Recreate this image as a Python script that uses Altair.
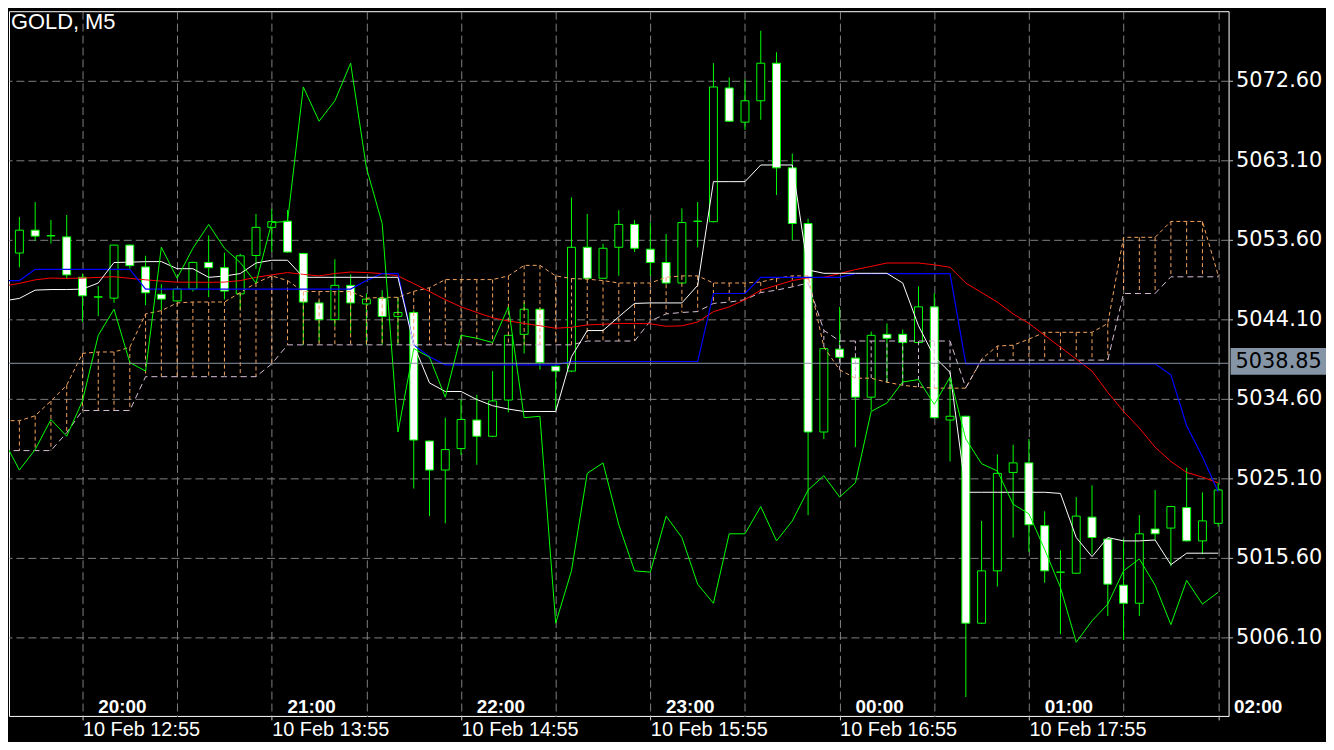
import altair as alt
import pandas as pd

# ---------------- data ----------------
OPEN = [5052.02, 5054.75, 5054.07, 5053.95, 5049.12, 5046.75, 5046.63, 5052.97, 5050.36, 5047.09,
        5046.30, 5047.72, 5050.90, 5050.27, 5047.14, 5051.73, 5055.09, 5055.83, 5051.97, 5046.06,
        5044.06, 5048.16, 5045.94, 5046.63, 5044.45, 5044.92, 5029.56, 5026.10, 5028.66, 5032.07,
        5030.13, 5034.46, 5042.31, 5045.31, 5038.49, 5037.92, 5052.71, 5049.01, 5052.71, 5055.44,
        5052.48, 5050.89, 5048.44, 5055.83, 5055.77, 5071.74, 5067.66, 5070.21, 5074.70, 5062.20,
        5055.55, 5030.64, 5040.54, 5039.47, 5034.80, 5042.31, 5042.31, 5041.33, 5045.59, 5032.07,
        5032.52, 5007.80, 5014.05, 5025.81, 5026.95, 5019.45, 5013.88, 5013.77, 5020.47, 5017.85,
        5012.34, 5010.18, 5019.05, 5019.16, 5021.61, 5017.63, 5019.73]
HIGH = [5056.33, 5058.11, 5055.97, 5056.57, 5049.56, 5048.06, 5053.00, 5053.05, 5051.70, 5048.29,
        5047.78, 5050.99, 5054.13, 5052.05, 5051.94, 5056.69, 5057.28, 5057.16, 5052.05, 5046.36,
        5051.28, 5049.47, 5047.19, 5047.59, 5046.73, 5045.17, 5029.61, 5032.35, 5034.52, 5035.09,
        5037.92, 5042.20, 5046.16, 5045.35, 5038.64, 5058.67, 5056.69, 5053.12, 5057.14, 5055.95,
        5055.66, 5054.30, 5057.36, 5058.11, 5074.70, 5073.00, 5072.78, 5078.57, 5076.01, 5063.91,
        5056.12, 5040.66, 5045.59, 5039.59, 5042.64, 5043.61, 5042.88, 5048.04, 5047.19, 5037.07,
        5032.58, 5020.02, 5027.97, 5029.11, 5029.80, 5021.16, 5016.50, 5022.87, 5024.28, 5017.97,
        5017.85, 5020.71, 5023.71, 5021.77, 5026.38, 5023.42, 5024.56]
LOW = [5050.31, 5053.48, 5053.16, 5048.93, 5043.78, 5044.48, 5046.07, 5050.15, 5045.78, 5045.17,
       5046.24, 5047.42, 5046.75, 5046.47, 5045.17, 5050.15, 5052.17, 5052.05, 5041.05, 5041.37,
       5043.33, 5042.47, 5041.05, 5041.05, 5041.05, 5023.89, 5020.59, 5019.73, 5027.87, 5026.73,
       5030.03, 5032.98, 5040.03, 5038.09, 5033.29, 5037.80, 5048.91, 5048.91, 5049.30, 5052.14,
       5049.30, 5048.31, 5048.31, 5052.71, 5055.68, 5067.67, 5066.74, 5067.94, 5058.95, 5053.55,
       5020.70, 5029.80, 5039.23, 5028.83, 5033.21, 5036.50, 5036.50, 5041.25, 5032.28, 5027.12,
       4998.98, 5007.70, 5012.18, 5018.03, 5016.32, 5012.63, 5006.49, 5013.70, 5016.04, 5008.65,
       5005.80, 5008.65, 5017.74, 5014.61, 5017.56, 5016.04, 5019.34]
CLOSE = [5054.75, 5054.04, 5054.10, 5049.41, 5046.91, 5046.80, 5052.97, 5050.51, 5047.27, 5046.52,
         5047.72, 5050.90, 5050.27, 5047.48, 5051.69, 5055.09, 5055.77, 5052.14, 5046.16, 5044.06,
         5048.16, 5046.06, 5046.51, 5044.45, 5044.92, 5029.68, 5026.10, 5028.54, 5032.13, 5030.13,
         5034.35, 5042.19, 5045.31, 5038.94, 5037.92, 5052.71, 5049.01, 5052.59, 5055.44, 5052.59,
         5050.89, 5048.44, 5055.66, 5055.80, 5071.86, 5067.77, 5070.21, 5074.70, 5062.20, 5055.55,
         5030.64, 5040.60, 5039.57, 5034.80, 5042.19, 5041.84, 5041.33, 5045.59, 5032.35, 5032.52,
         5007.80, 5014.05, 5025.70, 5026.95, 5019.56, 5014.05, 5013.90, 5020.59, 5018.03, 5012.46,
         5010.18, 5018.48, 5018.48, 5021.73, 5017.63, 5020.02, 5023.71]

# indicator lines, bar index -1 .. 76
TENKAN = [5046.30, 5046.60, 5047.59, 5047.66, 5047.66, 5047.71, 5048.44, 5050.89, 5050.93, 5050.99, 5051.00,
          5050.15, 5050.15, 5049.12, 5049.27, 5049.57, 5050.83, 5051.16, 5051.16, 5049.12, 5049.12,
          5049.12, 5049.12, 5049.12, 5049.12, 5049.12, 5041.05, 5036.50, 5035.48, 5035.48, 5034.52,
          5033.78, 5033.38, 5033.09, 5033.09, 5033.09, 5039.63, 5042.76, 5042.76, 5044.41, 5046.00,
          5046.06, 5046.06, 5046.06, 5048.16, 5060.55, 5060.55, 5060.55, 5062.54, 5062.54, 5062.54,
          5050.00, 5049.60, 5049.60, 5049.60, 5049.60, 5049.60, 5048.44, 5043.33, 5039.63, 5037.76,
          5023.44, 5023.44, 5023.44, 5023.44, 5023.44, 5023.44, 5023.30, 5018.03, 5015.75, 5018.03,
          5017.63, 5017.63, 5017.74, 5014.79, 5016.16, 5016.16, 5016.16]
KIJUN = [5048.73, 5048.73, 5050.08, 5050.08, 5050.08, 5050.08, 5050.08, 5050.08, 5050.08, 5047.72,
         5047.71, 5047.71, 5047.71, 5047.71, 5047.71, 5047.71, 5047.71, 5047.71, 5047.71, 5047.71,
         5047.71, 5047.71, 5047.71, 5048.73, 5049.57, 5049.57, 5041.05, 5039.63, 5038.66, 5038.66,
         5038.66, 5038.66, 5038.66, 5038.66, 5038.66, 5038.66, 5039.06, 5039.06, 5039.06, 5039.06,
         5039.06, 5039.06, 5039.06, 5039.06, 5039.06, 5047.19, 5047.19, 5047.19, 5049.12, 5049.12,
         5049.12, 5049.12, 5049.12, 5049.12, 5049.57, 5049.57, 5049.57, 5049.57, 5049.57, 5049.57,
         5049.57, 5038.78, 5038.78, 5038.78, 5038.78, 5038.78, 5038.78, 5038.78, 5038.78, 5038.78,
         5038.78, 5038.78, 5038.78, 5038.78, 5037.47, 5031.39, 5027.69, 5023.51]
MA_RED = [5048.07, 5048.39, 5048.82, 5049.03, 5048.99, 5049.03, 5049.11, 5049.19, 5049.00, 5048.82,
          5048.67, 5048.54, 5048.54, 5048.52, 5048.55, 5048.73, 5049.12, 5049.41, 5049.69, 5049.47,
          5049.29, 5049.57, 5049.75, 5049.69, 5049.57, 5049.29, 5048.37, 5047.42, 5046.45, 5045.59,
          5044.92, 5044.29, 5043.90, 5043.61, 5043.33, 5043.04, 5043.15, 5043.43, 5043.51, 5043.61,
          5043.61, 5043.57, 5043.27, 5043.33, 5043.78, 5045.02, 5045.59, 5046.45, 5047.59, 5048.16,
          5048.73, 5049.06, 5049.12, 5049.57, 5050.04, 5050.43, 5050.83, 5050.83, 5050.83, 5050.61,
          5050.32, 5048.44, 5047.30, 5046.16, 5044.75, 5043.61, 5042.19, 5040.77, 5039.35, 5037.92,
          5035.37, 5033.09, 5031.11, 5028.83, 5027.12, 5025.81, 5025.25, 5024.56]
CHIKOU = [5029.68, 5026.10, 5028.54, 5032.13, 5030.13, 5034.35, 5042.19, 5045.31, 5038.94, 5037.92,
          5052.71, 5049.01, 5052.59, 5055.44, 5052.59, 5050.89, 5048.44, 5055.66, 5055.80, 5071.86,
          5067.77, 5070.21, 5074.70, 5062.20, 5055.55, 5030.64, 5040.60, 5039.57, 5034.80, 5042.19,
          5041.84, 5041.33, 5045.59, 5032.35, 5032.52, 5007.80, 5014.05, 5025.70, 5026.95, 5019.56,
          5014.05, 5013.90, 5020.59, 5018.03, 5012.46, 5010.18, 5018.48, 5018.48, 5021.73, 5017.63,
          5020.02, 5023.71, 5025.42, 5022.87, 5024.57, 5033.09, 5034.11, 5036.62, 5036.90, 5033.94,
          5037.19, 5029.80, 5026.85, 5025.99, 5022.01, 5020.87, 5016.61, 5012.06, 5005.52, 5008.08,
          5010.08, 5014.05, 5015.48, 5012.34, 5007.63, 5012.91, 5010.08, 5011.49]
SPAN_A = [5031.99, 5031.99, 5032.58, 5034.35, 5036.23, 5040.03, 5040.20, 5040.20, 5040.77, 5044.75,
          5045.14, 5046.06, 5046.17, 5046.17, 5046.17, 5047.30, 5048.44, 5049.29, 5048.73, 5047.42,
          5047.42, 5047.42, 5047.42, 5046.62, 5046.73, 5046.73, 5047.45, 5047.88, 5048.85, 5048.85,
          5048.85, 5048.85, 5049.29, 5050.55, 5050.55, 5049.29, 5048.97, 5048.90, 5048.73, 5048.44,
          5048.44, 5048.44, 5049.12, 5049.29, 5049.29, 5048.44, 5048.44, 5048.44, 5048.55, 5049.01,
          5049.29, 5049.29, 5040.80, 5038.07, 5037.07, 5037.07, 5036.59, 5036.22, 5036.02, 5035.88,
          5035.88, 5035.88, 5039.35, 5040.91, 5041.01, 5041.74, 5042.55, 5042.55, 5042.55, 5042.55,
          5043.61, 5053.90, 5053.90, 5053.90, 5055.80, 5055.80, 5055.80, 5049.36]
SPAN_B = [5028.42, 5028.42, 5028.42, 5028.42, 5030.56, 5033.21, 5033.21, 5033.21, 5033.21, 5037.25,
          5037.25, 5037.25, 5037.25, 5037.25, 5037.25, 5037.25, 5037.25, 5038.78, 5041.05, 5041.05,
          5041.05, 5041.05, 5041.05, 5041.05, 5041.05, 5041.05, 5041.05, 5041.05, 5041.05, 5041.05,
          5041.05, 5041.05, 5041.05, 5041.05, 5041.05, 5041.05, 5041.05, 5041.51, 5041.51, 5041.51,
          5041.51, 5043.90, 5044.75, 5044.92, 5045.03, 5046.00, 5046.16, 5046.45, 5047.30, 5047.59,
          5047.98, 5048.44, 5042.79, 5041.51, 5041.51, 5041.51, 5041.51, 5041.51, 5041.51, 5041.51,
          5041.51, 5035.94, 5039.23, 5039.23, 5039.23, 5039.23, 5039.23, 5039.23, 5039.23, 5039.23,
          5039.23, 5047.19, 5047.19, 5047.19, 5049.18, 5049.18, 5049.18, 5049.18]

PRICE_TICKS = [5006.10, 5015.60, 5025.10, 5034.60, 5044.10, 5053.60, 5063.10, 5072.60]
GRID_BARS = [4, 10, 16, 22, 28, 34, 40, 46, 52, 58, 64, 70, 76]
DATE_BARS = [4, 16, 28, 40, 52, 64]
DATE_LABELS = ["10 Feb 12:55", "10 Feb 13:55", "10 Feb 14:55", "10 Feb 15:55", "10 Feb 16:55", "10 Feb 17:55"]
TIME_BARS = [5, 17, 29, 41, 53, 65, 77]
TIME_LABELS = ["20:00", "21:00", "22:00", "23:00", "00:00", "01:00", "02:00"]
BID = 5038.85
TITLE = "GOLD, M5"

# ---------------- styling ----------------
LIME = "#00ff00"
GRID = "#808080"
W, H = 1227, 709

label_expr = " : ".join(
    f"datum.value == {b} ? '{t}'" for b, t in zip(DATE_BARS, DATE_LABELS)
) + " : ''"

x_scale = alt.Scale(domain=[-0.34375, 76.34375], nice=False, zero=False)
y_scale = alt.Scale(domain=[4996.71875, 5080.9125], nice=False, zero=False)

x_axis = alt.Axis(
    orient="bottom", values=GRID_BARS, grid=True, gridColor=GRID, gridDash=[8, 4], gridWidth=1,
    domain=False, ticks=True, tickSize=4, tickWidth=1,
    tickColor={"condition": {"test": "datum.value % 12 == 4 || datum.value == 76", "value": "#d0d0d0"},
               "value": "#000000"},
    labelExpr=label_expr, labelAlign="left", labelBaseline="top", labelPadding=0,
    labelFont="Liberation Sans", labelFontSize=20, labelColor="#ffffff",
    labelOverlap=False, labelBound=False, labelFlush=False,
)
y_axis = alt.Axis(
    orient="right", values=PRICE_TICKS, format=".2f", grid=True, gridColor=GRID, gridDash=[8, 4],
    gridWidth=1, domain=False, ticks=True, tickSize=4, tickColor="#c0c0c0",
    labelFont="DejaVu Sans", labelFontSize=21, labelColor="#ffffff", labelPadding=3,
    labelBaseline="middle", labelOverlap=False, labelBound=False, labelFlush=False,
)


def X(field="i"):
    return alt.X(f"{field}:Q", scale=x_scale, axis=x_axis, title=None)


def Y(field):
    return alt.Y(f"{field}:Q", scale=y_scale, axis=y_axis, title=None)


# ---------------- frames ----------------
cdf = pd.DataFrame({"i": list(range(len(OPEN))), "open": OPEN, "high": HIGH, "low": LOW, "close": CLOSE})
cdf["top"] = cdf[["open", "close"]].max(axis=1)
cdf["bot"] = cdf[["open", "close"]].min(axis=1)
cdf["bull"] = cdf["close"] > cdf["open"]

LINE_IDX = list(range(-1, 77))

hdf = pd.DataFrame({"i": LINE_IDX[1:], "a": SPAN_A[1:], "b": SPAN_B[1:]})

wicks = alt.Chart(cdf).mark_rule(color=LIME, strokeWidth=1).encode(
    x=X(), y=Y("low"), y2=alt.Y2("high:Q"))
bodies = alt.Chart(cdf).mark_bar(size=8, stroke=LIME, strokeWidth=1, opacity=1).encode(
    x=X(), y=Y("bot"), y2=alt.Y2("top:Q"),
    fill=alt.condition("datum.bull", alt.value("#000000"), alt.value("#ffffff")))

hatch = alt.Chart(hdf).mark_rule(strokeWidth=1, strokeDash=[4, 3]).encode(
    x=X(), y=Y("a"), y2=alt.Y2("b:Q"),
    color=alt.condition("datum.a >= datum.b", alt.value("#f4a460"), alt.value("#d8bfd8")))


def line_layer(values, color, dash=None, width=1.0):
    df = pd.DataFrame({"i": LINE_IDX, "v": values})
    kw = dict(color=color, strokeWidth=width, clip=True)
    if dash:
        kw["strokeDash"] = dash
    return alt.Chart(df).mark_line(**kw).encode(x=X(), y=Y("v"))


span_a = line_layer(SPAN_A, "#f4a460", dash=[4, 3])
span_b = line_layer(SPAN_B, "#d8bfd8", dash=[6, 4])
red = line_layer(MA_RED, "#ff0000")
blue = line_layer(KIJUN, "#0000ff", width=1.2)
white = line_layer(TENKAN, "#ffffff")
green = line_layer(CHIKOU, LIME)

bdf = pd.DataFrame({"p": [BID], "label": [f"{BID:.2f}"]})
bid_line = alt.Chart(bdf).mark_rule(color="#8a96a3", strokeWidth=1).encode(y=Y("p"))
bid_box = alt.Chart(bdf).mark_tick(color="#8595a6", thickness=27, size=96, opacity=1, yOffset=-2).encode(
    y=Y("p"), x=alt.value(1277))
bid_text = alt.Chart(bdf).mark_text(align="left", baseline="middle", font="DejaVu Sans", fontSize=21,
                                    color="#000000", yOffset=-1).encode(
    y=Y("p"), x=alt.value(1234), text="label:N")

tdf = pd.DataFrame({"i": TIME_BARS, "t": TIME_LABELS})
time_text = alt.Chart(tdf).mark_text(align="left", baseline="alphabetic", font="Liberation Sans",
                                     fontSize=19, fontWeight="bold", color="#ffffff").encode(
    x=X(), y=alt.value(706), text="t:N")

ttl = pd.DataFrame({"t": [TITLE]})
title_text = alt.Chart(ttl).mark_text(align="left", baseline="alphabetic", font="Liberation Sans",
                                      fontSize=22, color="#ffffff").encode(
    x=alt.value(2), y=alt.value(18), text="t:N")

chart = alt.layer(
    wicks, bodies, hatch, span_a, span_b, red, blue, white, green,
    bid_line, bid_box, bid_text, time_text, title_text,
).properties(
    width=W, height=H, background="#000000",
    padding={"left": 1, "top": 1, "right": 98, "bottom": 24},
    autosize=alt.AutoSizeParams(type="none"),
).configure_view(stroke="#ffffff", strokeWidth=1)

chart.save("out.html", embed_options={"renderer": "svg", "actions": False})
